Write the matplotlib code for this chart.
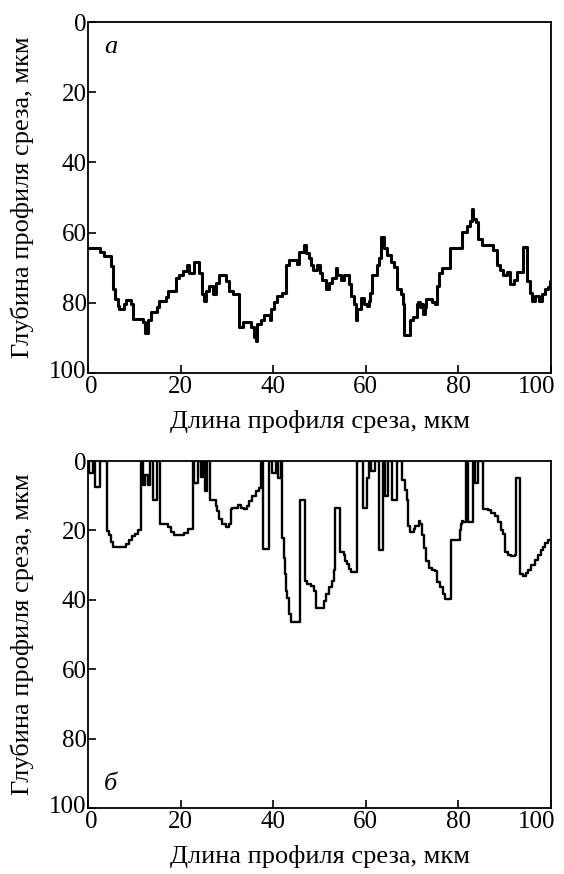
import matplotlib
matplotlib.use("Agg")
import matplotlib.pyplot as plt
import matplotlib.transforms as mtransforms

# ---- Panel a: profile (x, depth), step-wise ----
a_x = [0, 2.5, 3.5, 5.0, 5.3, 5.9, 6.4, 6.8, 7.85, 8.2, 9.3, 9.65, 11.8, 12.4, 12.9,
       13.6, 15.0, 15.4, 16.85, 17.2, 19.0, 19.7, 20.5, 21.3, 21.9, 23.0, 24.05, 24.6,
       25.0, 25.5, 26.2, 26.9, 27.65, 28.4, 29.8, 30.5, 31.25, 32.7, 33.4, 35.1, 35.9,
       36.2, 36.6, 37.3, 38.0, 39.3, 39.6, 40.2, 40.9, 41.96, 42.7, 42.8, 43.4, 45.2,
       45.6, 46.6, 47.0, 47.7, 48.1, 48.5, 49.5, 50.2, 50.6, 51.3, 52.0, 52.8, 53.5,
       53.85, 54.6, 55.3, 56.4, 56.7, 57.4, 57.8, 58.2, 58.9, 59.6, 60.3, 60.7, 61.0,
       61.4, 62.5, 62.85, 63.2, 63.9, 64.6, 65.4, 66.1, 66.8, 67.5, 68.0, 68.3, 69.5,
       70.2, 71.0, 71.3, 71.7, 72.05, 72.4, 72.8, 73.1, 74.2, 74.9, 75.3, 75.9, 76.4,
       78.2, 80.8, 81.8, 82.5, 82.9, 83.2, 83.9, 84.3, 85.0, 87.5, 88.3, 89.0, 89.7,
       90.4, 91.2, 91.9, 92.6, 94.0, 94.8, 95.5, 95.8, 96.6, 97.3, 98.0, 98.7, 99.4,
       99.8, 100]
a_y = [64.3, 65.4, 66.6, 69.6, 76.1, 78.9, 80.8, 81.7, 80.3, 79.2, 80.3, 84.5, 85.5, 88.7, 85.0,
       82.7, 81.3, 79.4, 78.3, 76.6, 72.9, 72.0, 71.0, 69.2, 71.5, 68.3, 71.5, 77.6,
       79.4, 76.6, 75.2, 77.6, 74.3, 72.0, 73.8, 76.6, 77.6, 86.9, 85.5, 86.9, 89.6,
       91.0, 86.0, 85.0, 83.6, 85.0, 81.7, 79.9, 78.0, 77.1, 75.1, 69.2, 67.8, 68.8,
       65.4, 63.6, 65.9, 67.3, 69.2, 70.6, 69.2, 71.5, 73.4, 76.1, 74.3, 72.9, 70.1,
       72.0, 73.4, 72.0, 74.7, 78.0, 80.3, 85.0, 81.7, 78.5, 80.3, 80.8, 79.4, 77.1,
       72.0, 69.2, 67.3, 61.3, 64.5, 66.4, 68.3, 69.7, 76.1, 77.6, 80.3, 89.2, 84.9,
       84.0, 80.3, 79.9, 81.3, 80.3, 83.1, 81.3, 78.9, 79.9, 80.3, 75.2, 71.5, 70.1,
       64.5, 59.9, 58.0, 56.6, 53.3, 56.1, 57.1, 61.7, 63.6, 65.0, 69.2, 70.6, 72.0,
       71.1, 74.7, 73.4, 71.1, 64.1, 73.8, 77.1, 79.4, 78.0, 79.4, 77.5, 76.1, 75.6,
       73.8, 73.8]

# ---- Panel б ----
b_x = [0, 0.3, 1.0, 1.5, 2.6, 4.0, 4.6, 5.0, 5.5, 8.2, 8.8, 9.4, 10.1, 10.8, 11.5,
       11.8, 12.4, 12.9, 13.3, 14.0, 15.0, 15.55, 17.2, 17.9, 18.65, 20.8, 21.5, 22.6,
       22.8, 23.7, 24.4, 24.8, 25.3, 25.8, 26.4, 26.6, 27.6, 27.9, 28.3, 29.0, 29.7,
       30.45, 30.8, 31.2, 32.3, 33.0, 33.7, 34.4, 34.8, 35.5, 36.2, 36.9, 37.4, 37.9,
       39.1, 39.8, 40.5, 41.0, 41.6, 42.0, 42.3, 42.5, 42.7, 43.05, 43.4, 43.8, 45.8,
       46.8, 47.4, 48.1, 48.8, 49.2, 51.0, 51.3, 52.0, 52.7, 53.1, 53.4, 54.5, 55.2,
       55.6, 55.9, 56.3, 56.7, 58.1, 59.3, 60.2, 60.7, 61.2, 62.0, 62.8, 63.8, 64.2,
       64.9, 65.7, 66.7, 67.8, 68.4, 68.9, 69.2, 69.6, 70.3, 70.7, 71.4, 71.8, 72.1,
       72.5, 72.9, 73.6, 74.3, 75.0, 75.4, 75.95, 76.7, 77.0, 78.3, 78.5, 80.3, 80.5,
       80.8, 81.0, 81.6, 82.1, 83.2, 83.6, 84.3, 85.3, 86.4, 87.1, 87.8, 88.5, 89.3,
       89.6, 90.0, 90.7, 91.4, 92.2, 92.5, 93.4, 93.9, 94.7, 95.0, 95.7, 96.5, 97.2,
       97.9, 98.3, 98.7, 99.4, 100]
b_y = [0, 3.5, 0, 7.5, 0, 20.3, 21.4, 23.3, 24.8, 24.0, 22.8, 21.7, 21.0, 20.0, 0,
       6.9, 4.0, 6.9, 0, 11.2, 0, 18.1, 19.1, 20.5, 21.4, 20.7, 19.5, 0,
       6.4, 0, 4.5, 0, 8.7, 0, 11.1, 11.1, 13.0, 14.4, 16.7, 18.1, 19.1,
       18.1, 13.9, 13.4, 12.8, 13.4, 13.9, 12.9, 11.6, 10.1, 8.7, 7.8, 0, 25.4,
       0, 3.5, 0, 5.0, 0, 22.3, 28.0, 32.7, 37.4, 39.5, 44.0, 46.3, 11.1,
       34.6, 35.5, 36.0, 37.4, 42.3, 40.2, 38.3, 36.4, 34.5, 31.3, 13.4, 26.1, 27.0,
       28.9, 29.8, 31.2, 31.9, 0, 13.5, 5.0, 0, 3.0, 0, 25.6, 0, 10.0,
       0, 11.1, 0, 5.4, 8.3, 11.1, 18.6, 20.5, 19.5, 18.6, 17.2, 18.1, 21.4,
       25.2, 28.9, 30.8, 31.3, 31.7, 35.0, 36.4, 38.3, 39.7, 23.3, 22.8, 20.0, 18.1,
       17.2, 17.7, 0, 17.7, 0, 6.4, 0, 13.9, 14.0, 14.9, 15.8, 17.7, 20.0,
       21.0, 26.1, 27.0, 27.5, 27.0, 5.0, 32.7, 33.1, 32.2, 31.3, 29.9, 28.5, 27.0,
       25.6, 24.7, 23.7, 22.8, 22.8]

ticks = [0, 20, 40, 60, 80, 100]
xlabel = "Длина профиля среза, мкм"
ylabel = "Глубина профиля среза, мкм"

plt.rcParams['font.family'] = ['Liberation Serif', 'DejaVu Serif']

fig = plt.figure(figsize=(5.64, 8.74), dpi=100)
ax1 = fig.add_axes([0.156, 0.5732, 0.821, 0.4016])
ax2 = fig.add_axes([0.156, 0.0755, 0.821, 0.397])


def shift(label, dx_px, dy_px):
    off = mtransforms.ScaledTranslation(dx_px / 100, dy_px / 100, fig.dpi_scale_trans)
    label.set_transform(label.get_transform() + off)


for ax, xs, ys, lw, lab, ly in [(ax1, a_x, a_y, 2.2, "а", 0.93), (ax2, b_x, b_y, 1.7, "б", 0.07)]:
    ax.step(xs, ys, where='post', color='black', lw=lw)
    ax.set_xlim(0, 100)
    ax.set_ylim(100, 0)
    ax.set_xticks(ticks)
    ax.set_yticks(ticks)
    ax.tick_params(direction='in', length=6, width=1.2, labelsize=18,
                   top=False, right=False)
    ax.tick_params(axis='x', pad=2)
    ax.tick_params(axis='y', pad=1)
    for s in ax.spines.values():
        s.set_linewidth(1.3)
    ax.set_xlabel(xlabel, fontsize=19, labelpad=9)
    ax.set_ylabel(ylabel, fontsize=19, labelpad=11)
    ax.text(0.035, ly, lab, transform=ax.transAxes, fontsize=19, style='italic',
            va='center', ha='left')
    xl = ax.get_xticklabels()
    xl[-1].set_horizontalalignment('right')
    shift(xl[-1], 4, 0)
    shift(xl[0], 3, 0)
    yl = ax.get_yticklabels()
    shift(yl[-1], 0, 4)

fig.savefig("out.png", dpi=100)
